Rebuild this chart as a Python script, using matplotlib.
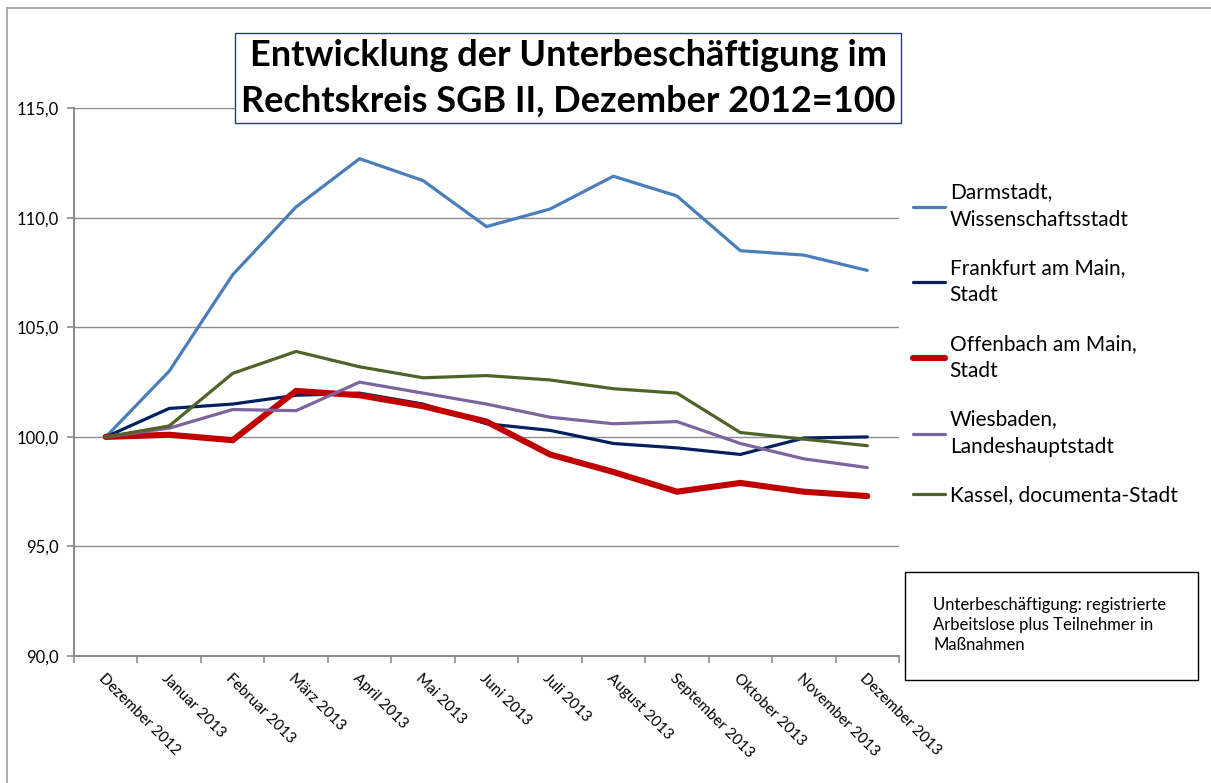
import numpy as np
import matplotlib
matplotlib.use('Agg')
import matplotlib.pyplot as plt
from matplotlib.patches import Rectangle
from matplotlib.lines import Line2D
from matplotlib.ticker import FuncFormatter

plt.rcParams['font.family'] = ['Lato', 'DejaVu Sans']

# Data (Dezember 2012 = 100)
months = ['Dezember 2012', 'Januar 2013', 'Februar 2013', 'März 2013', 'April 2013',
          'Mai 2013', 'Juni 2013', 'Juli 2013', 'August 2013', 'September 2013',
          'Oktober 2013', 'November 2013', 'Dezember 2013']

darmstadt = [100.0, 103.0, 107.4, 110.5, 112.7, 111.7, 109.6, 110.4, 111.9, 111.0, 108.5, 108.3, 107.6]
frankfurt = [100.0, 101.3, 101.5, 101.9, 102.0, 101.5, 100.6, 100.3, 99.7, 99.5, 99.2, 99.95, 100.0]
offenbach = [100.0, 100.1, 99.85, 102.1, 101.9, 101.4, 100.7, 99.2, 98.4, 97.5, 97.9, 97.5, 97.3]
wiesbaden = [100.0, 100.4, 101.25, 101.2, 102.5, 102.0, 101.5, 100.9, 100.6, 100.7, 99.7, 99.0, 98.6]
kassel = [100.0, 100.5, 102.9, 103.9, 103.2, 102.7, 102.8, 102.6, 102.2, 102.0, 100.2, 99.9, 99.6]

series = [
    ('Darmstadt,\nWissenschaftsstadt', darmstadt, '#4A7EBB', 2.3),
    ('Frankfurt am Main,\nStadt', frankfurt, '#002060', 2.3),
    ('Offenbach am Main,\nStadt', offenbach, '#C00000', 4.4),
    ('Wiesbaden,\nLandeshauptstadt', wiesbaden, '#7E649E', 2.3),
    ('Kassel, documenta-Stadt', kassel, '#4F6228', 2.3),
]

W, H = 1211, 783
fig = plt.figure(figsize=(W / 100, H / 100), dpi=100)
ax = fig.add_axes([74 / W, 1 - 656 / H, (899 - 74) / W, (656 - 108.3) / H])

x = np.arange(len(months))
for label, vals, color, lw in series:
    ax.plot(x, vals, color=color, lw=lw, label=label, solid_capstyle='round',
            solid_joinstyle='miter', zorder=3)

ax.set_xlim(-0.5, len(months) - 0.5)
ax.set_ylim(90, 115)
ax.set_yticks([90, 95, 100, 105, 110, 115])
ax.yaxis.set_major_formatter(FuncFormatter(lambda v, p: f'{v:.1f}'.replace('.', ',')))
ax.grid(axis='y', color='#8c8c8c', lw=1.0, zorder=1)
ax.set_axisbelow(True)

for s in ['top', 'right']:
    ax.spines[s].set_visible(False)
for s in ['left', 'bottom']:
    ax.spines[s].set_color('#8c8c8c')
    ax.spines[s].set_linewidth(1.5)

# category ticks at slot boundaries, labels at slot centers
ax.set_xticks(np.arange(-0.5, len(months), 1.0))
ax.set_xticklabels([])
ax.set_xticks(x, minor=True)
ax.set_xticklabels(months, minor=True, rotation=-45, ha='left', va='top',
                   rotation_mode='anchor', fontsize=11)
ax.tick_params(axis='x', which='major', length=5, color='#8c8c8c', width=1.2)
ax.tick_params(axis='x', which='minor', length=0, pad=11)
ax.tick_params(axis='y', length=5, color='#8c8c8c', width=1.2, labelsize=12, pad=6)

# legend
leg = ax.legend(loc='upper left', bbox_to_anchor=(0.994, 0.899), frameon=False,
                fontsize=15, handlelength=1.55, handletextpad=0.22,
                labelspacing=1.37)
for t in leg.get_texts():
    t.set_linespacing(1.45)

# title box
fig.text(568 / W, 1 - 78 / H, 'Entwicklung der Unterbeschäftigung im\nRechtskreis SGB II, Dezember 2012=100',
         ha='center', va='center', fontsize=26, fontweight='bold', linespacing=1.47,
         bbox=dict(boxstyle='square,pad=0.15', fc='white', ec='#1F3A7A', lw=1.0))

# note box
fig.patches.append(Rectangle((905 / W, 1 - 680 / H), 293 / W, 108 / H,
                             transform=fig.transFigure, fill=False, ec='black', lw=1.0))
fig.text(933 / W, 1 - 597 / H, 'Unterbeschäftigung: registrierte\nArbeitslose plus Teilnehmer in\nMaßnahmen',
         ha='left', va='top', fontsize=12, linespacing=1.3)

# chart area frame
fig.add_artist(Line2D([7 / W, 7 / W], [0, 1 - 8 / H], transform=fig.transFigure, color='#a0a0a0', lw=1.2))
fig.add_artist(Line2D([7 / W, 1], [1 - 8 / H, 1 - 8 / H], transform=fig.transFigure, color='#a0a0a0', lw=1.2))

fig.savefig('out.png', dpi=100, facecolor='white')
